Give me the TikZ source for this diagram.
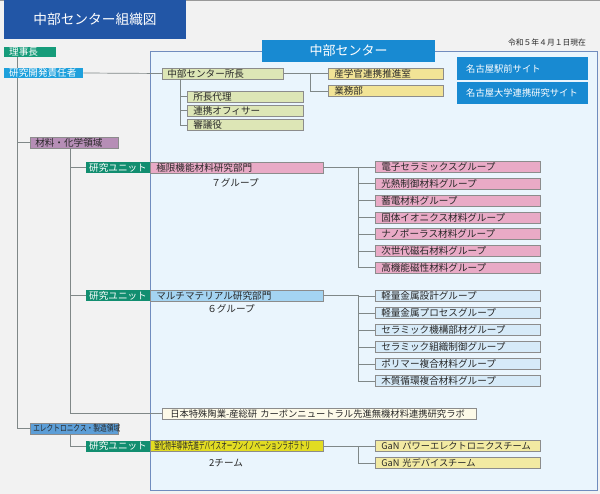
\documentclass[tikz,border=0pt]{standalone}
\usepackage{fontspec}
\usepackage{graphicx}
\setmainfont{Noto Sans CJK JP}

\definecolor{pagebg}{RGB}{242,242,242}
\definecolor{regionfill}{RGB}{234,245,253}
\definecolor{regionline}{RGB}{112,140,190}
\definecolor{titleblue}{RGB}{34,86,166}
\definecolor{hdrblue}{RGB}{24,138,210}
\definecolor{sekininblue}{RGB}{30,160,220}
\definecolor{rijigreen}{RGB}{22,156,122}
\definecolor{unitgreen}{RGB}{18,142,112}
\definecolor{olive}{RGB}{221,230,182}
\definecolor{paleyellow}{RGB}{242,228,150}
\definecolor{purple}{RGB}{182,142,182}
\definecolor{pink}{RGB}{233,170,198}
\definecolor{skyblue}{RGB}{164,212,242}
\definecolor{paleblue}{RGB}{214,234,248}
\definecolor{cream}{RGB}{253,250,232}
\definecolor{elecblue}{RGB}{92,158,215}
\definecolor{brightyellow}{RGB}{226,220,34}
\definecolor{ganyellow}{RGB}{242,234,162}
\definecolor{boxline}{RGB}{140,140,140}
\definecolor{connline}{RGB}{128,136,136}
\definecolor{txt}{RGB}{40,40,40}

\newcommand\jf[1]{\fontsize{#1}{#1}\selectfont}

\tikzset{
  conn/.style={draw=connline, line width=0.7pt},
  box/.style={draw=boxline, line width=0.5pt, anchor=west, inner xsep=6pt,
    inner ysep=0pt, minimum height=11pt, align=left, text=txt, font=\jf{9.6}},
  tag/.style={anchor=west, inner xsep=5pt, inner ysep=0pt, minimum height=10pt,
    align=left, text=white, font=\jf{9.6}},
  unitbox/.style={tag, fill=unitgreen, inner xsep=3pt, text width=58pt, minimum height=11pt},
  deptbox/.style={box, text width=161pt},
  grpbox/.style={box, text width=153pt},
  sitebox/.style={anchor=west, fill=hdrblue, text=white, inner xsep=9pt, inner ysep=0pt,
    text width=113pt, align=left, font=\jf{9.3}}
}

\begin{document}
\begin{tikzpicture}[x=1pt,y=-1pt]
    \fill[pagebg] (0,0) rectangle (600,494);
    \useasboundingbox (0,0) rectangle (600,494);
    \draw[black!40, line width=1pt] (0,0.5) -- (600,0.5);

    \draw[fill=regionfill, draw=regionline, line width=0.8pt] (150,51) rectangle (597,490);

    \node[fill=titleblue, text=white, minimum width=182pt, minimum height=39pt,
        inner sep=0pt, font=\jf{13.7}] (title) at (95,19.5) {中部センター組織図};
    \node[fill=hdrblue, text=white, minimum width=173pt, minimum height=22pt,
        inner sep=0pt, font=\jf{13}] (chubu) at (348.5,51) {中部センター};
    \node[text=txt, inner sep=0pt, font=\jf{7.8}] (date) at (547,43) {令和５年４月１日現在};
    \node[sitebox, minimum height=23pt] (eki) at (457,68.5) {名古屋駅前サイト};
    \node[sitebox, minimum height=22pt] (meidai) at (457,93) {名古屋大学連携研究サイト};

    \node[tag, fill=rijigreen, text width=42pt] (riji) at (4,52) {理事長};
    \node[tag, fill=sekininblue, text width=69pt] (sekinin) at (4,73) {研究開発責任者};

    \node[box, fill=olive, inner xsep=5pt, text width=111pt] (shocho) at (162,73.5) {中部センター所長};
    \node[box, fill=paleyellow, text width=103pt] (sangaku) at (328,73.5) {産学官連携推進室};
    \node[box, fill=paleyellow, text width=103pt] (gyomu) at (328,91) {業務部};
    \foreach \y/\lab [count=\i] in {96.5/所長代理,110.5/連携オフィサー,125/審議役}
        \node[box, fill=olive, text width=104pt] (sub\i) at (187,\y) {\lab};

    \node[box, fill=purple, inner xsep=5pt, text width=78pt] (zairyo) at (30,142.5) {材料・化学領域};
    \node[unitbox] (unit1) at (86,167.5) {研究ユニット};
    \node[deptbox, fill=pink] (kyokugen) at (150,167.5) {極限機能材料研究部門};
    \node[text=txt, font=\jf{9.6}] (n7) at (235,183) {７グループ};
    \foreach \y/\lab [count=\i] in {167/電子セラミックスグループ,183.8/光熱制御材料グループ,
        200.6/蓄電材料グループ,217.4/固体イオニクス材料グループ,234.2/ナノポーラス材料グループ,
        251/次世代磁石材料グループ,267.8/高機能磁性材料グループ}
        \node[grpbox, fill=pink] (p\i) at (375,\y) {\lab};

    \node[unitbox] (unit2) at (86,295.5) {研究ユニット};
    \node[deptbox, fill=skyblue] (multi) at (150,295.5) {マルチマテリアル研究部門};
    \node[text=txt, font=\jf{9.6}] (n6) at (231,309) {６グループ};
    \foreach \y/\lab [count=\i] in {296/軽量金属設計グループ,313/軽量金属プロセスグループ,
        330/セラミック機構部材グループ,347/セラミック組織制御グループ,
        364/ポリマー複合材料グループ,381/木質循環複合材料グループ}
        \node[grpbox, fill=paleblue] (b\i) at (375,\y) {\lab};

    \node[box, fill=cream, inner xsep=8pt, text width=298pt, font=\jf{9.3}] (lab) at (162,413.5)
        {日本特殊陶業-産総研 カーボンニュートラル先進無機材料連携研究ラボ};

    \node[box, fill=elecblue, inner xsep=3pt, text width=82pt] (elec) at (30,428.5)
        {\scalebox{0.78}[1]{\jf{8.6}エレクトロニクス・製造領域}};
    \node[unitbox] (unit3) at (86,446) {研究ユニット};
    \node[deptbox, fill=brightyellow, inner xsep=4pt, text width=165pt] (gan) at (150,446)
        {\scalebox{0.56}[1]{\jf{10}窒化物半導体先進デバイスオープンイノベーションラボラトリ}};
    \node[text=txt, font=\jf{9.6}] (n2) at (226,463) {2チーム};
    \foreach \y/\lab [count=\i] in {446/GaN パワーエレクトロニクスチーム,463/GaN 光デバイスチーム}
        \node[grpbox, fill=ganyellow, font=\jf{9.2}] (t\i) at (375,\y) {\mbox{\lab}};

    \coordinate (trunk) at (17,0);
    \coordinate (sbus) at (310,0);
    \coordinate (dbus) at (180,0);
    \coordinate (zbus) at (70,0);
    \coordinate (gbus) at (358,0);

    \draw[conn] (trunk |- riji.south) -- (trunk |- sekinin.north);
    \draw[conn] (trunk |- sekinin.south) -- (trunk |- elec.west) -- (elec.west);
    \draw[conn] (trunk |- zairyo.west) -- (zairyo.west);
    \draw[conn] (sekinin.east) -- (shocho.west);

    \draw[conn] (shocho.east) -- (sangaku.west);
    \draw[conn] (sbus |- shocho.east) |- (gyomu.west);
    \draw[conn] (dbus |- shocho.south) -- (dbus |- sub3.west);
    \foreach \i in {1,2,3}
        \draw[conn] (dbus |- sub\i.west) -- (sub\i.west);

    \draw[conn] (zbus |- zairyo.south) -- (zbus |- lab.west) -- (lab.west);
    \draw[conn] (zbus |- unit1.west) -- (unit1.west);
    \draw[conn] (zbus |- unit2.west) -- (unit2.west);
    \draw[conn] (zbus |- elec.south) |- (unit3.west);

    \draw[conn] (kyokugen.east) -- (gbus |- kyokugen.east) -- (gbus |- p7.west);
    \foreach \i in {1,...,7}
        \draw[conn] (gbus |- p\i.west) -- (p\i.west);
    \draw[conn] (multi.east) -- (gbus |- multi.east) -- (gbus |- b6.west);
    \foreach \i in {1,...,6}
        \draw[conn] (gbus |- b\i.west) -- (b\i.west);
    \draw[conn] (gan.east) -- (gbus |- gan.east) -- (gbus |- t2.west);
    \foreach \i in {1,2}
        \draw[conn] (gbus |- t\i.west) -- (t\i.west);
\end{tikzpicture}
\end{document}
